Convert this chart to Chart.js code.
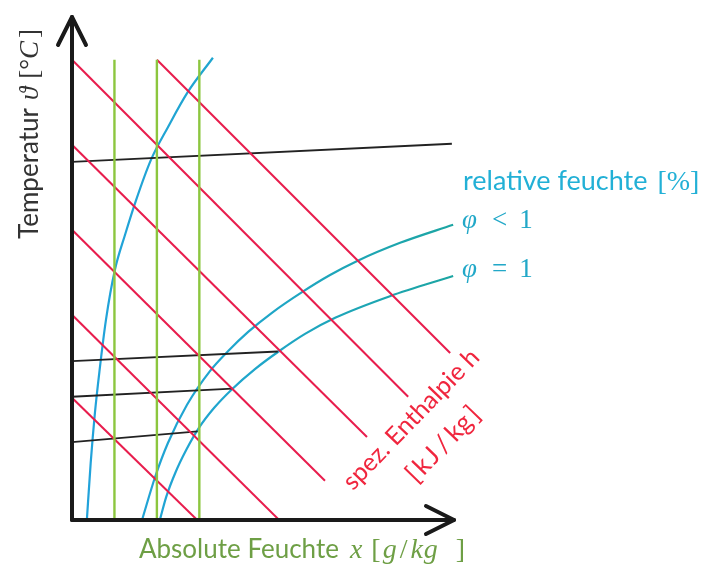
<!DOCTYPE html>
<html>
<head>
<meta charset="utf-8">
<title>h-x Diagramm</title>
<script src="https://cdn.jsdelivr.net/npm/chart.js@4.4.1/dist/chart.umd.min.js"></script>
<style>
    html, body { margin: 0; padding: 0; background: #fff; }
    canvas { display: block; }
</style>
</head>
<body>
<canvas id="hx" width="707" height="565"></canvas>
<script>
// absolute humidity x [g/kg] on the horizontal, temperature on the vertical
var xMax = 90;
var yMax = 100;

// lines of constant x
var waterContent = [10, 20, 30];
var waterContentTop = 91.5;

// lines of constant enthalpy h (start / end)
var enthalpyStartX = [20.0, 0, 0, 0, 0, 0];
var enthalpyStartY = [91.5, 91.5, 74.6, 57.7, 40.8, 24.3];
var enthalpyEndX = [89.1, 79.2, 69.5, 59.6, 48.8, 29.5];
var enthalpyEndY = [33.2, 24.5, 16.5, 7.8, 0, 0];

// isotherms (start / end)
var isothermStartY = [71.2, 31.6, 24.5, 15.5];
var isothermEndX = [89.5, 48.5, 37.8, 29.6];
var isothermEndY = [74.8, 33.5, 26.1, 17.6];

// relative humidity curves
var phiLowX = [3.5, 4.4, 5.4, 6.5, 8.0, 10.1, 12.5, 15.1, 18.6, 22.6, 27.3, 33.2];
var phiLowY = [0, 11.3, 21.3, 29.8, 39.8, 49.7, 56.7, 63.6, 71.6, 78.1, 85.1, 91.9];
var phiMidX = [16.5, 19.6, 22.6, 27.1, 32.5, 36.8, 41.5, 47.1, 54.2, 60.8, 67.2, 77.3, 89.8];
var phiMidY = [0, 8.6, 15.3, 22.9, 29.6, 33.6, 37.4, 41.2, 45.3, 48.7, 51.5, 55.1, 58.7];
var phiSatX = [20.7, 22.2, 24.3, 26.9, 29.9, 33.5, 37.7, 43.1, 48.5, 54.9, 62.0, 74.9, 89.8];
var phiSatY = [0, 4.6, 9.3, 13.9, 18.3, 22.3, 26.0, 30.0, 33.4, 37.0, 40.2, 44.5, 48.5];

var red = '#e81d4d';
var green = '#8cc63f';
var dark = '#222';

var sans = 'Lato, "Open Sans", sans-serif';
var serif = '"Liberation Serif", "DejaVu Serif", serif';

function toPoints(xs, ys) {
    return xs.map(function (x, i) {
        return {x: x, y: ys[i]};
    });
}

function straight(points, color, width) {
    return {
        data: points,
        borderColor: color,
        borderWidth: width,
        showLine: true,
        pointRadius: 0,
        tension: 0
    };
}

function cyanGradient(context) {
    var chart = context.chart;
    var area = chart.chartArea;
    if (!area) {
        return '#1fa5c8';
    }
    var g = chart.ctx.createLinearGradient(area.left, 0, area.right, 0);
    g.addColorStop(0, '#22a2dc');
    g.addColorStop(0.45, '#1fa6cc');
    g.addColorStop(1, '#1ca5a2');
    return g;
}

function curve(points) {
    return {
        data: points,
        borderColor: cyanGradient,
        borderWidth: 2.2,
        showLine: true,
        pointRadius: 0,
        cubicInterpolationMode: 'monotone'
    };
}

var datasets = [];

waterContent.forEach(function (x) {
    datasets.push(straight([{x: x, y: 0}, {x: x, y: waterContentTop}], green, 2.4));
});

enthalpyStartX.forEach(function (x, i) {
    datasets.push(straight([
        {x: x, y: enthalpyStartY[i]},
        {x: enthalpyEndX[i], y: enthalpyEndY[i]}
    ], red, 2));
});

isothermStartY.forEach(function (y, i) {
    datasets.push(straight([
        {x: 0, y: y},
        {x: isothermEndX[i], y: isothermEndY[i]}
    ], dark, 1.8));
});

datasets.push(curve(toPoints(phiLowX, phiLowY)));
datasets.push(curve(toPoints(phiMidX, phiMidY)));
datasets.push(curve(toPoints(phiSatX, phiSatY)));

// text made of runs with different fonts (sans words, italic formula letters);
// dx adds extra room before a run, like the wide spacing of the formula font
function drawRuns(ctx, runs, x, y, angle, align, color) {
    ctx.save();
    ctx.translate(x, y);
    ctx.rotate(angle);
    ctx.fillStyle = color;
    ctx.textBaseline = 'alphabetic';
    ctx.textAlign = 'left';
    var total = 0;
    runs.forEach(function (run) {
        ctx.font = run.font;
        total += (run.dx || 0) + ctx.measureText(run.text).width;
    });
    var pos = align === 'center' ? -total / 2 : 0;
    runs.forEach(function (run) {
        ctx.font = run.font;
        pos += run.dx || 0;
        ctx.fillText(run.text, pos, 0);
        pos += ctx.measureText(run.text).width;
    });
    ctx.restore();
}

function arrow(ctx, x1, y1, x2, y2) {
    var a = Math.atan2(y2 - y1, x2 - x1);
    var back = 28;
    var side = 14;
    ctx.beginPath();
    ctx.moveTo(x1, y1);
    ctx.lineTo(x2, y2);
    ctx.stroke();
    ctx.beginPath();
    ctx.moveTo(x2 - back * Math.cos(a) - side * Math.sin(a), y2 - back * Math.sin(a) + side * Math.cos(a));
    ctx.lineTo(x2, y2);
    ctx.lineTo(x2 - back * Math.cos(a) + side * Math.sin(a), y2 - back * Math.sin(a) - side * Math.cos(a));
    ctx.stroke();
}

var diagramDecor = {
    id: 'diagramDecor',
    afterDatasetsDraw: function (chart) {
        var ctx = chart.ctx;
        var area = chart.chartArea;

        ctx.save();
        ctx.strokeStyle = '#1a1a1a';
        ctx.lineWidth = 4;
        ctx.lineCap = 'round';
        ctx.lineJoin = 'round';
        arrow(ctx, area.left, area.bottom, area.left, area.top);
        arrow(ctx, area.left, area.bottom, area.right, area.bottom);
        ctx.restore();

        drawRuns(ctx, [
            {text: 'Temperatur', font: '26px ' + sans},
            {text: 'ϑ', font: 'italic 27px ' + serif, dx: 8},
            {text: '[°', font: '27px ' + serif, dx: 8},
            {text: 'C', font: 'italic 27px ' + serif},
            {text: ']', font: '27px ' + serif, dx: 3}
        ], 38, 134, -Math.PI / 2, 'center', '#333');

        drawRuns(ctx, [
            {text: 'Absolute Feuchte', font: '26px ' + sans},
            {text: 'x', font: 'italic 28px ' + serif, dx: 11},
            {text: '[', font: '28px ' + serif, dx: 9},
            {text: 'g', font: 'italic 28px ' + serif, dx: 2},
            {text: '/', font: '28px ' + serif, dx: 3},
            {text: 'k', font: 'italic 28px ' + serif, dx: 3},
            {text: 'g', font: 'italic 28px ' + serif, dx: 1},
            {text: ']', font: '28px ' + serif, dx: 18}
        ], 139, 558, 0, 'left', '#6e9f45');

        drawRuns(ctx, [
            {text: 'relative feuchte', font: '27px ' + sans},
            {text: '[%]', font: '28px ' + serif, dx: 10}
        ], 463, 190, 0, 'left', '#22b0d6');

        drawRuns(ctx, [
            {text: 'φ', font: 'italic 27px ' + serif},
            {text: '<', font: '27px ' + serif, dx: 15},
            {text: '1', font: '27px ' + serif, dx: 12}
        ], 462, 228, 0, 'left', '#22a8c8');

        drawRuns(ctx, [
            {text: 'φ', font: 'italic 27px ' + serif},
            {text: '=', font: '27px ' + serif, dx: 15},
            {text: '1', font: '27px ' + serif, dx: 12}
        ], 462, 277, 0, 'left', '#22a8c8');

        var tilt = -46 * Math.PI / 180;
        drawRuns(ctx, [
            {text: 'spez. Enthalpie h', font: '25px ' + sans}
        ], 417, 425, tilt, 'center', '#f0263e');
        drawRuns(ctx, [
            {text: '[', font: '26px ' + sans},
            {text: 'k', font: '26px ' + sans, dx: 3},
            {text: 'J', font: '26px ' + sans, dx: 2},
            {text: '/', font: '26px ' + sans, dx: 4},
            {text: 'kg', font: '26px ' + sans, dx: 4},
            {text: ']', font: '26px ' + sans, dx: 3}
        ], 449, 450, tilt, 'center', '#f0263e');
    }
};

new Chart(document.getElementById('hx').getContext('2d'), {
    type: 'scatter',
    data: {datasets: datasets},
    options: {
        responsive: false,
        animation: false,
        layout: {
            padding: {left: 72, right: 253, top: 17, bottom: 45}
        },
        plugins: {
            legend: {display: false},
            tooltip: {enabled: false}
        },
        scales: {
            x: {type: 'linear', min: 0, max: xMax, display: false},
            y: {type: 'linear', min: 0, max: yMax, display: false}
        }
    },
    plugins: [diagramDecor]
});
</script>
</body>
</html>
